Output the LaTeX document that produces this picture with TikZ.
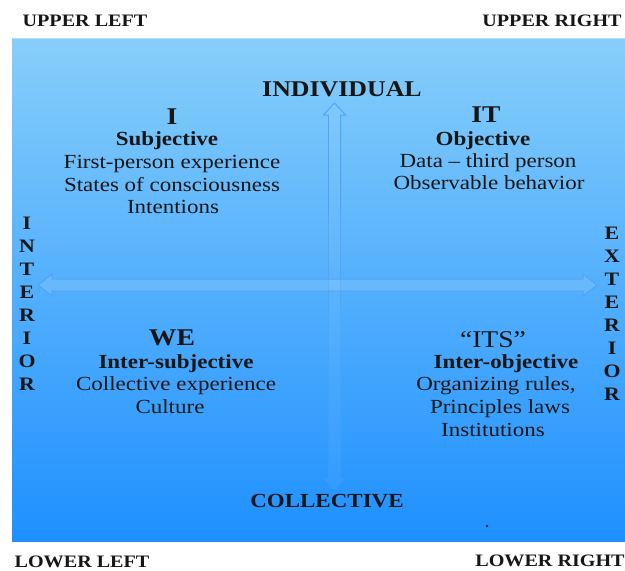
\documentclass[tikz,border=0pt]{standalone}
\usepackage{fontspec}
\setmainfont{Liberation Serif}[FakeStretch=1.15]
\usetikzlibrary{calc}
\definecolor{bgtop}{RGB}{135,206,250}
\definecolor{bgbot}{RGB}{30,144,255}
\definecolor{arrline}{RGB}{78,160,250}
\definecolor{txt}{RGB}{22,22,22}
\begin{document}
\begin{tikzpicture}[x=1pt,y=-1pt,
  lbl/.style={font=\fontsize{20}{24}\selectfont, text=txt, inner sep=0pt, text height=14pt, text depth=4pt},
  hd/.style={lbl, font=\bfseries\fontsize{20}{24}\selectfont},
  big/.style={font=\bfseries\fontsize{24}{28}\selectfont, text=txt, inner sep=0pt, text height=16pt, text depth=0pt},
  bigreg/.style={big, font=\fontsize{24}{28}\selectfont},
  corner/.style={font=\bfseries\fontsize{17.5}{20}\selectfont, text=txt, inner sep=0pt, text height=12pt, text depth=0pt},
  axis/.style={font=\bfseries\fontsize{22.5}{26}\selectfont, text=txt, inner sep=0pt, text height=15pt, text depth=0pt},
  side/.style={font=\bfseries\fontsize{19}{23}\selectfont, text=txt, inner sep=0pt, align=center},
  arrowbody/.style={fill=white, fill opacity=0.12, draw=arrline, draw opacity=0.85, line width=1pt, line join=miter},
  vline/.style={draw=arrline, line width=1pt, line join=miter}]
\useasboundingbox (0,0) rectangle (625,571);
% background panel
\shade[top color=bgtop, bottom color=bgbot] (12,38) rectangle (625,541);
\draw[white, opacity=0.35, line width=0.8pt] (12,38.5) -- (625,38.5);

% arrow end points
\coordinate (vt) at (334.5,103);
\coordinate (vb) at (334.5,490);
\coordinate (hl) at (38,285);
\coordinate (hr) at (597,285);

% vertical arrow: light body, outline fading towards the bottom
\fill[white, fill opacity=0.05] (vt) -- ++(11,12) -- ++(-5,0) -- ($(vb)+(6,-12)$) -- ++(5,0) -- (vb)
  -- ++(-11,-12) -- ++(5,0) -- ($(vt)+(-6,12)$) -- ++(-5,0) -- cycle;
\draw[vline, draw opacity=0.9] ($(vt)+(-6,12)$) -- ++(-5,0) -- (vt) -- ++(11,12) -- ++(-5,0) -- ++(0,100);
\draw[vline, draw opacity=0.9] ($(vt)+(-6,12)$) -- ++(0,100);
\draw[vline, draw opacity=0.65] ($(vt)+(-6,112)$) -- ++(0,100) ($(vt)+(6,112)$) -- ++(0,100);
\draw[vline, draw opacity=0.4] ($(vt)+(-6,212)$) -- ++(0,80) ($(vt)+(6,212)$) -- ++(0,80);
\draw[vline, draw opacity=0.22] ($(vt)+(-6,292)$) -- ($(vb)+(-6,-12)$) ($(vt)+(6,292)$) -- ($(vb)+(6,-12)$);
\draw[vline, draw opacity=0.14] ($(vb)+(-6,-12)$) -- ++(-5,0) -- (vb) -- ++(11,-12) -- ++(-5,0);

% horizontal arrow
\path[arrowbody] (hl) -- ++(14,-11) -- ++(0,5) -- ($(hr)+(-14,-6)$) -- ++(0,-5) -- (hr)
  -- ++(-14,11) -- ++(0,-5) -- ($(hl)+(14,6)$) -- ++(0,5) -- cycle;

% corner labels
\node[corner] (ul) at (85,20) {UPPER LEFT};
\node[corner] (ur) at (552,20) {UPPER RIGHT};
\node[corner] (ll) at (82,561) {LOWER LEFT};
\node[corner] (lr) at (550,560) {LOWER RIGHT};

% axis labels
\node[axis] (indiv) at (342,89) {INDIVIDUAL};
\node[axis, font=\bfseries\fontsize{20}{24}\selectfont, text height=13pt] (coll) at (327,501) {COLLECTIVE};
\node[side] (interior) at (27,303.5) {I\\N\\T\\E\\R\\I\\O\\R};
\node[side] (exterior) at (612,313.5) {E\\X\\T\\E\\R\\I\\O\\R};

% upper left
\node[big] (qI) at (172,116) {I};
\node[hd] (qIa) at (167,140) {Subjective};
\node[lbl] (qIb) at (172,163) {First-person experience};
\node[lbl] (qIc) at (172,186) {States of consciousness};
\node[lbl] (qId) at (173,208) {Intentions};

% upper right
\node[big] (qIT) at (486,114) {IT};
\node[hd] (qITa) at (483,140) {Objective};
\node[lbl] (qITb) at (488,162) {Data – third person};
\node[lbl] (qITc) at (489,184) {Observable behavior};

% lower left
\node[big] (qWE) at (172,337) {WE};
\node[hd] (qWEa) at (176,363) {Inter-subjective};
\node[lbl] (qWEb) at (176,385) {Collective experience};
\node[lbl] (qWEc) at (170,408) {Culture};

% lower right
\node[bigreg] (qITS) at (493,339) {“ITS”};
\node[hd] (qITSa) at (506,363) {Inter-objective};
\node[lbl] (qITSb) at (496,385) {Organizing rules,};
\node[lbl] (qITSc) at (500,408) {Principles laws};
\node[lbl] (qITSd) at (493,431) {Institutions};

% small dot
\fill[txt] (487,526) circle (1.3);
\end{tikzpicture}
\end{document}
